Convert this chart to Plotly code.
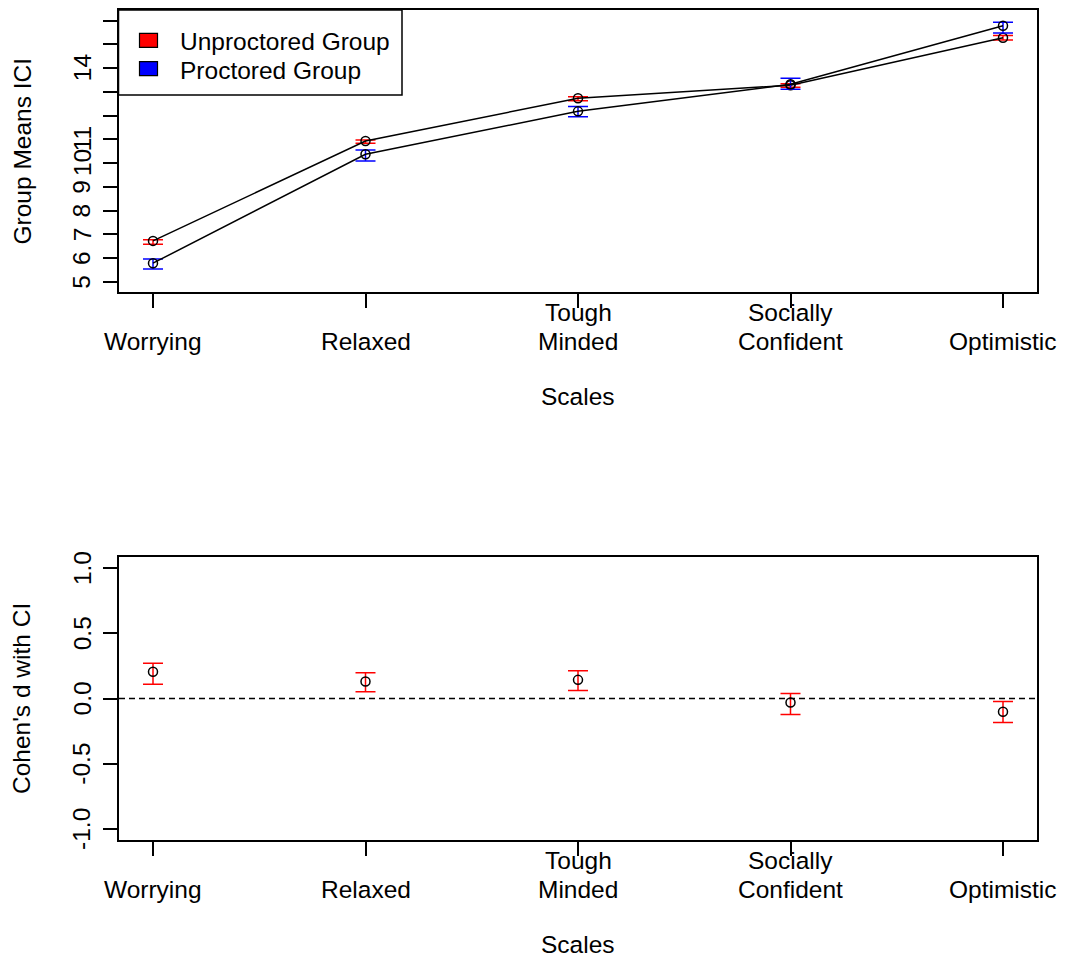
import plotly.graph_objects as go

W, H = 1065, 959

# ---------------- data ----------------
categories = ["Worrying", "Relaxed", "Tough\nMinded", "Socially\nConfident", "Optimistic"]
x_pos = [1, 2, 3, 4, 5]

unproc_mean = [6.72, 10.93, 12.73, 13.28, 15.28]
unproc_lower = [6.58, 10.83, 12.63, 13.20, 15.19]
unproc_upper = [6.77, 10.97, 12.80, 13.34, 15.38]

proc_mean = [5.78, 10.37, 12.18, 13.32, 15.79]
proc_lower = [5.54, 10.09, 11.95, 13.11, 15.48]
proc_upper = [5.96, 10.55, 12.38, 13.57, 15.93]

d_mean = [0.205, 0.13, 0.143, -0.031, -0.102]
d_lower = [0.11, 0.051, 0.061, -0.123, -0.184]
d_upper = [0.27, 0.197, 0.212, 0.038, -0.023]

top_ticks = [5, 6, 7, 8, 9, 10, 11, 12, 13, 14, 15, 16]
top_tick_labels = ["5", "6", "7", "8", "9", "10", "11", "", "", "14", "", ""]
bottom_ticks = [-1.0, -0.5, 0.0, 0.5, 1.0]
bottom_tick_labels = ["-1.0", "-0.5", "0.0", "0.5", "1.0"]

legend_labels = ["Unproctored Group", "Proctored Group"]
legend_colors = ["#ff0000", "#0000ff"]

FONT = "Liberation Sans, Arial, sans-serif"
FS = 24.5


def px_x(p):
    return p / W


def px_y(p):
    return 1 - p / H


fig = go.Figure()


def err(mean, lo, up):
    return dict(type="data", symmetric=False,
                array=[u - m for u, m in zip(up, mean)],
                arrayminus=[m - l for m, l in zip(mean, lo)],
                thickness=1.5, width=10)


for mean, lo, up, col in [(unproc_mean, unproc_lower, unproc_upper, legend_colors[0]),
                          (proc_mean, proc_lower, proc_upper, legend_colors[1])]:
    e = err(mean, lo, up)
    e["color"] = col
    fig.add_trace(go.Scatter(
        x=x_pos, y=mean, mode="lines+markers", xaxis="x", yaxis="y",
        line=dict(color="black", width=1.5),
        marker=dict(symbol="circle-open", size=9, color="black", line=dict(width=1.5)),
        error_y=e, showlegend=False, hoverinfo="skip"))

e = err(d_mean, d_lower, d_upper)
e["color"] = "#ff0000"
fig.add_trace(go.Scatter(
    x=x_pos, y=d_mean, mode="markers", xaxis="x2", yaxis="y2",
    marker=dict(symbol="circle-open", size=9, color="black", line=dict(width=1.5)),
    error_y=e, showlegend=False, hoverinfo="skip"))

x_dom = [px_x(119), px_x(1037)]
top_dom = [px_y(292), px_y(10)]
bot_dom = [px_y(840), px_y(557)]

axis_common = dict(showgrid=False, zeroline=False, showline=True, mirror=True,
                   linecolor="black", linewidth=1.6, ticks="outside", ticklen=14,
                   tickwidth=1.5, tickcolor="black", showticklabels=False)

fig.update_layout(
    width=W, height=H, autosize=False,
    margin=dict(l=0, r=0, t=0, b=0),
    paper_bgcolor="white", plot_bgcolor="white",
    font=dict(family=FONT, size=FS, color="black"),
    xaxis=dict(domain=x_dom, range=[0.84, 5.16], tickvals=x_pos, anchor="y", **axis_common),
    yaxis=dict(domain=top_dom, range=[4.566, 16.451], tickvals=top_ticks, anchor="x", **axis_common),
    xaxis2=dict(domain=x_dom, range=[0.84, 5.16], tickvals=x_pos, anchor="y2", **axis_common),
    yaxis2=dict(domain=bot_dom, range=[-1.085, 1.085], tickvals=bottom_ticks, anchor="x2", **axis_common),
    showlegend=False,
)

ann = []
shapes = []

# x tick labels (R-style, multi-line labels grow upward)
for panel_xref, base in [("x", 341.3), ("x2", 889.3)]:
    for xp, cat in zip(x_pos, categories):
        lines = cat.split("\n")
        n = len(lines)
        for i, ln in enumerate(lines):
            k = n - 1 - i
            ann.append(dict(x=xp, xref=panel_xref, y=px_y(base - 29 * k), yref="paper",
                            text=ln, showarrow=False, xanchor="center", yanchor="middle",
                            font=dict(size=FS)))

# y tick labels (rotated)
for v, t in zip(top_ticks, top_tick_labels):
    if t:
        ann.append(dict(x=px_x(82), xref="paper", y=v, yref="y", text=t, textangle=-90,
                        showarrow=False, xanchor="center", yanchor="middle", font=dict(size=FS)))
for v, t in zip(bottom_ticks, bottom_tick_labels):
    ann.append(dict(x=px_x(82), xref="paper", y=v, yref="y2", text=t, textangle=-90,
                    showarrow=False, xanchor="center", yanchor="middle", font=dict(size=FS)))

# axis titles
ann.append(dict(x=(x_dom[0] + x_dom[1]) / 2, xref="paper", y=px_y(396.5), yref="paper",
                text="Scales", showarrow=False, xanchor="center", yanchor="middle"))
ann.append(dict(x=(x_dom[0] + x_dom[1]) / 2, xref="paper", y=px_y(944.5), yref="paper",
                text="Scales", showarrow=False, xanchor="center", yanchor="middle"))
ann.append(dict(x=px_x(21.5), xref="paper", y=sum(top_dom) / 2, yref="paper",
                text="Group Means ICI", textangle=-90, showarrow=False,
                xanchor="center", yanchor="middle"))
ann.append(dict(x=px_x(21.5), xref="paper", y=sum(bot_dom) / 2, yref="paper",
                text="Cohen's d with CI", textangle=-90, showarrow=False,
                xanchor="center", yanchor="middle"))

# legend box
shapes.append(dict(type="rect", xref="paper", yref="paper",
                   x0=px_x(118.5), x1=px_x(402), y0=px_y(95), y1=px_y(10),
                   line=dict(color="black", width=1.5), fillcolor="white", layer="above"))
for i, (lab, col) in enumerate(zip(legend_labels, legend_colors)):
    cy = 40.3 + 28.4 * i
    shapes.append(dict(type="rect", xref="paper", yref="paper",
                       x0=px_x(139.5), x1=px_x(157.5), y0=px_y(cy + 7), y1=px_y(cy - 7),
                       line=dict(color="black", width=1.2), fillcolor=col, layer="above"))
    ann.append(dict(x=px_x(178), xref="paper", y=px_y(42 + 28.4 * i), yref="paper",
                    text=lab, showarrow=False, xanchor="left", yanchor="middle",
                    font=dict(size=FS)))

# zero reference line in the bottom panel
shapes.append(dict(type="line", xref="x2 domain", yref="y2", x0=0, x1=1, y0=0, y1=0,
                   line=dict(color="black", width=1.5, dash="6px,4px")))

fig.update_layout(annotations=ann, shapes=shapes)

fig.write_html("out.html")
